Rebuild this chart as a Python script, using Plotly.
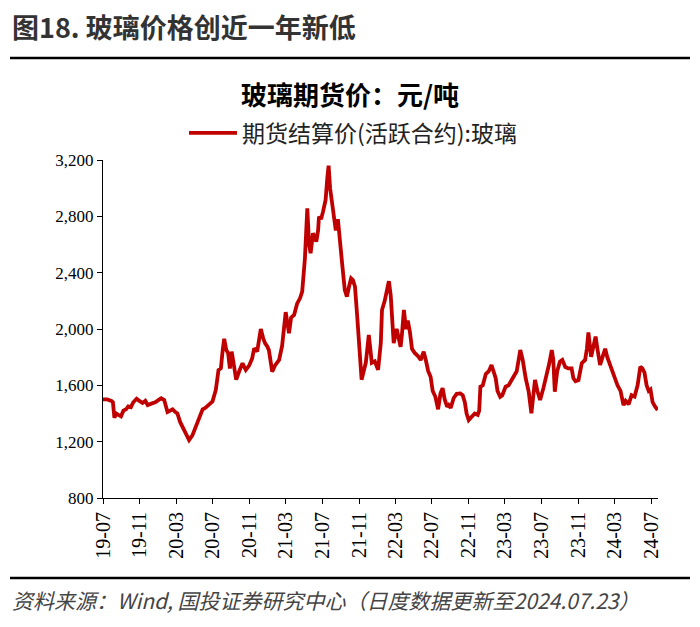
import plotly.graph_objects as go

# ---- data ----
dates = [
    "2019-07-01", "2019-07-15", "2019-07-29", "2019-08-03", "2019-08-08", "2019-08-14", "2019-08-21", "2019-08-30",
    "2019-09-07", "2019-09-16", "2019-09-23", "2019-10-02", "2019-10-10", "2019-10-21", "2019-10-30", "2019-11-10",
    "2019-11-19", "2019-11-27", "2019-12-09", "2019-12-22", "2020-01-05", "2020-01-11", "2020-01-21", "2020-02-01",
    "2020-02-10", "2020-02-18", "2020-02-27", "2020-03-05", "2020-03-14", "2020-03-22", "2020-03-31", "2020-04-08",
    "2020-04-13", "2020-04-24", "2020-05-03", "2020-05-11", "2020-05-20", "2020-05-28", "2020-06-06", "2020-06-13",
    "2020-06-22", "2020-06-30", "2020-07-11", "2020-07-20", "2020-07-28", "2020-08-03", "2020-08-08", "2020-08-15",
    "2020-08-21", "2020-08-27", "2020-09-02", "2020-09-08", "2020-09-17", "2020-09-27", "2020-10-08", "2020-10-19",
    "2020-10-30", "2020-11-09", "2020-11-16", "2020-11-26", "2020-12-08", "2020-12-16", "2020-12-22", "2020-12-30",
    "2021-01-04", "2021-01-15", "2021-01-24", "2021-02-07", "2021-02-17", "2021-03-01", "2021-03-05", "2021-03-12",
    "2021-03-19", "2021-03-29", "2021-04-08", "2021-04-18", "2021-04-25", "2021-05-04", "2021-05-12", "2021-05-18",
    "2021-05-23", "2021-05-31", "2021-06-11", "2021-06-17", "2021-06-20", "2021-06-27", "2021-07-03", "2021-07-12",
    "2021-07-18", "2021-07-22", "2021-07-27", "2021-08-02", "2021-08-09", "2021-08-15", "2021-08-22", "2021-08-29",
    "2021-09-05", "2021-09-14", "2021-09-21", "2021-09-28", "2021-10-05", "2021-10-11", "2021-10-18", "2021-10-25",
    "2021-10-31", "2021-11-09", "2021-11-16", "2021-11-23", "2021-12-03", "2021-12-13", "2021-12-23", "2022-01-03",
    "2022-01-12", "2022-01-16", "2022-01-25", "2022-02-08", "2022-02-14", "2022-02-24", "2022-03-06", "2022-03-19",
    "2022-03-23", "2022-03-30", "2022-04-06", "2022-04-12", "2022-04-19", "2022-04-26", "2022-05-05", "2022-05-15",
    "2022-05-25", "2022-06-04", "2022-06-11", "2022-06-19", "2022-06-27", "2022-07-04", "2022-07-13", "2022-07-22",
    "2022-07-30", "2022-08-06", "2022-08-13", "2022-08-21", "2022-08-26", "2022-09-02", "2022-09-12", "2022-09-22",
    "2022-10-04", "2022-10-12", "2022-10-19", "2022-10-25", "2022-11-01", "2022-11-11", "2022-11-21", "2022-12-01",
    "2022-12-06", "2022-12-10", "2022-12-18", "2022-12-28", "2023-01-07", "2023-01-16", "2023-01-23", "2023-01-30",
    "2023-02-05", "2023-02-14", "2023-02-21", "2023-03-04", "2023-03-14", "2023-03-24", "2023-03-31", "2023-04-10",
    "2023-04-22", "2023-04-30", "2023-05-10", "2023-05-20", "2023-05-29", "2023-06-05", "2023-06-10", "2023-06-18",
    "2023-06-27", "2023-07-08", "2023-07-19", "2023-07-28", "2023-08-05", "2023-08-10", "2023-08-15", "2023-08-23",
    "2023-09-01", "2023-09-09", "2023-09-19", "2023-09-29", "2023-10-10", "2023-10-16", "2023-10-23", "2023-11-02",
    "2023-11-13", "2023-11-24", "2023-11-30", "2023-12-05", "2023-12-14", "2023-12-22", "2023-12-29", "2024-01-04",
    "2024-01-13", "2024-01-21", "2024-01-30", "2024-02-06", "2024-02-13", "2024-02-21", "2024-03-01", "2024-03-11",
    "2024-03-21", "2024-03-31", "2024-04-07", "2024-04-17", "2024-04-27", "2024-05-07", "2024-05-17", "2024-05-26",
    "2024-06-02", "2024-06-09", "2024-06-16", "2024-06-23", "2024-06-29", "2024-07-06", "2024-07-14", "2024-07-23",
]
glass_price = [
    1500, 1500, 1490, 1480, 1370, 1400, 1390, 1380,
    1420, 1430, 1450, 1445, 1480, 1505, 1490, 1475,
    1490, 1460, 1470, 1480, 1500, 1508, 1496, 1410,
    1420, 1430, 1410, 1400, 1340, 1306, 1260, 1220,
    1212, 1245, 1290, 1330, 1390, 1430, 1440, 1450,
    1470, 1485, 1567, 1709, 1721, 1850, 1930, 1851,
    1830, 1720, 1839, 1760, 1640, 1700, 1757, 1709,
    1740, 1790, 1863, 1840, 2000, 1934, 1900, 1874,
    1850, 1697, 1740, 1780, 1880, 2120, 2050, 1970,
    2080, 2100, 2180, 2220, 2265, 2500, 2857, 2600,
    2538, 2680, 2620, 2700, 2798, 2780, 2830, 2916,
    3080, 3160, 3000, 2900, 2780, 2700, 2780, 2600,
    2467, 2277, 2230, 2300, 2360, 2348, 2300, 2100,
    1890, 1640, 1700, 1760, 1957, 1760, 1770, 1710,
    1900, 2135, 2200, 2340, 2240, 1900, 2000, 1874,
    1950, 2135, 2000, 2060, 1980, 1860, 1830, 1810,
    1780, 1839, 1780, 1700, 1661, 1560, 1519, 1430,
    1543, 1580, 1500, 1448, 1460, 1440, 1510, 1540,
    1543, 1530, 1480, 1400, 1354, 1380, 1400, 1390,
    1420, 1590, 1600, 1680, 1700, 1744, 1700, 1650,
    1560, 1519, 1530, 1590, 1600, 1640, 1673, 1700,
    1851, 1780, 1650, 1555, 1401, 1520, 1638, 1560,
    1496, 1580, 1673, 1760, 1851, 1780, 1555, 1700,
    1768, 1780, 1730, 1720, 1720, 1650, 1630, 1638,
    1757, 1780, 1860, 1975, 1803, 1900, 1946, 1860,
    1744, 1800, 1860, 1800, 1760, 1709, 1650, 1600,
    1560, 1460, 1490, 1465, 1530, 1520, 1600, 1732,
    1720, 1690, 1600, 1560, 1570, 1480, 1450, 1425,
]
tick_dates = ["2019-07-01", "2019-11-01", "2020-03-01", "2020-07-01", "2020-11-01", "2021-03-01",
              "2021-07-01", "2021-11-01", "2022-03-01", "2022-07-01", "2022-11-01", "2023-03-01",
              "2023-07-01", "2023-11-01", "2024-03-01", "2024-07-01"]
tick_labels = ["19-07", "19-11", "20-03", "20-07", "20-11", "21-03", "21-07", "21-11",
               "22-03", "22-07", "22-11", "23-03", "23-07", "23-11", "24-03", "24-07"]
y_ticks = [800, 1200, 1600, 2000, 2400, 2800, 3200]
y_tick_labels = ["800", "1,200", "1,600", "2,000", "2,400", "2,800", "3,200"]

header = "图18. 玻璃价格创近一年新低"
chart_title = "玻璃期货价：元/吨"
series_name = "期货结算价(活跃合约):玻璃"
source_note = "资料来源：Wind, 国投证券研究中心（日度数据更新至2024.07.23）"

CJK = "Noto Sans CJK SC"
SERIF = "Liberation Serif"

# page body has an 8px margin: shift figure coordinates accordingly
OFF = 8
W, H = 700, 627
L, R, T, B = 103 - OFF, 658 - OFF, 160 - OFF, 498 - OFF
pw, ph = R - L, B - T


def px_x(x):
    return (x - OFF - L) / pw


def px_y(y):
    return (B - (y - OFF)) / ph


fig = go.Figure()
fig.add_trace(go.Scatter(
    x=dates, y=glass_price, mode="lines", name=series_name,
    line=dict(color="#C00000", width=3.8),
))

fig.update_layout(
    width=W, height=H,
    margin=dict(l=L, r=W - R, t=T, b=H - B),
    paper_bgcolor="white", plot_bgcolor="white",
    showlegend=True,
    legend=dict(
        orientation="h", x=px_x(184), xanchor="left", y=px_y(133), yanchor="middle",
        font=dict(family=CJK, size=23, color="#222"),
        itemwidth=48, bgcolor="rgba(0,0,0,0)",
    ),
    xaxis=dict(
        type="date", range=["2019-07-01", "2024-07-24"],
        tickmode="array", tickvals=tick_dates, ticktext=tick_labels,
        tickangle=-90, ticks="outside", ticklen=5, tickcolor="black", tickwidth=1,
        showline=True, linecolor="black", linewidth=1, showgrid=False, zeroline=False,
        tickfont=dict(family=SERIF, size=20, color="black"),
    ),
    yaxis=dict(
        range=[800, 3200], tickmode="array", tickvals=y_ticks, ticktext=y_tick_labels,
        ticks="outside", ticklen=5, tickcolor="black", tickwidth=1,
        showline=True, linecolor="black", linewidth=1, showgrid=False, zeroline=False,
        tickfont=dict(family=SERIF, size=17, color="black"),
    ),
)

fig.add_annotation(
    text=header, xref="paper", yref="paper",
    x=px_x(10), y=px_y(26), xanchor="left", yanchor="middle", showarrow=False,
    font=dict(family=CJK, size=27, color="#333", weight=600),
)
fig.add_annotation(
    text="<b>" + chart_title + "</b>", xref="paper", yref="paper",
    x=px_x(350), y=px_y(93), xanchor="center", yanchor="middle", showarrow=False,
    font=dict(family=CJK, size=26, color="black"),
)
fig.add_annotation(
    text="<i>" + source_note + "</i>", xref="paper", yref="paper",
    x=px_x(10), y=px_y(600), xanchor="left", yanchor="middle", showarrow=False,
    font=dict(family=CJK, size=21, color="#444"),
)
# header and footer rules
fig.add_shape(type="line", xref="paper", yref="paper",
              x0=px_x(10), x1=px_x(690), y0=px_y(58), y1=px_y(58),
              line=dict(color="black", width=2.5))
fig.add_shape(type="line", xref="paper", yref="paper",
              x0=px_x(10), x1=px_x(690), y0=px_y(578), y1=px_y(578),
              line=dict(color="black", width=2.5))

fig.write_html("out.html")
